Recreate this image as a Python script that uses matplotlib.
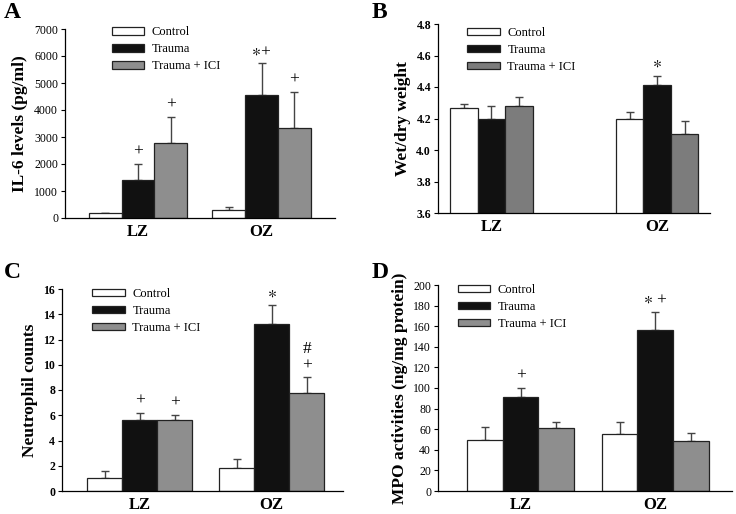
import numpy as np
import matplotlib
matplotlib.use('Agg')
import matplotlib.pyplot as plt
from matplotlib.patches import Patch

plt.rcParams['font.family'] = ['Liberation Serif', 'DejaVu Sans']
plt.rcParams['mathtext.fontset'] = 'stix'

groups = ['LZ', 'OZ']
series = ['Control', 'Trauma', 'Trauma + ICI']

# A: IL-6 levels
il6_mean = [[180, 310], [1420, 4550], [2780, 3330]]
il6_err = [[20, 80], [580, 1180], [950, 1350]]
il6_marks = [['', ''], ['+', r'$\ast$+'], ['+', '+']]

# B: wet/dry weight
wd_mean = [[4.265, 4.20], [4.20, 4.41], [4.28, 4.10]]
wd_err = [[0.025, 0.04], [0.08, 0.06], [0.055, 0.085]]
wd_marks = [['', ''], ['', r'$\ast$'], ['', '']]

# C: neutrophil counts
neu_mean = [[1.0, 1.8], [5.6, 13.2], [5.6, 7.8]]
neu_err = [[0.55, 0.75], [0.6, 1.5], [0.4, 1.2]]
neu_marks = [['', ''], ['+', r'$\ast$'], ['+', '#\n+']]

# D: MPO activities
mpo_mean = [[50, 55], [91, 156], [61, 49]]
mpo_err = [[12, 12], [9, 18], [6, 7]]
mpo_marks = [['', ''], ['+', r'$\ast$ +'], ['', '']]

W, H = 736, 514
fig = plt.figure(figsize=(W / 100, H / 100), dpi=100)


def make_ax(l, r, t, b):
    return fig.add_axes([l / W, 1 - b / H, (r - l) / W, (b - t) / H])


def panel(ax, mean, err, marks, colors, ylim, yticks, ylabel, xlim, width,
          bold_ticks, tick_fmt, legend_anchor):
    x = np.arange(len(groups))
    for i, name in enumerate(series):
        pos = x + (i - 1) * width
        ax.bar(pos, mean[i], width, color=colors[i], edgecolor='#222222',
               linewidth=0.9, zorder=2)
        ax.errorbar(pos, mean[i], yerr=[np.zeros(len(groups)), err[i]],
                    fmt='none', ecolor='#444444', elinewidth=1.0, capsize=3,
                    capthick=1.0, zorder=1)
        for j in range(len(groups)):
            if marks[i][j]:
                ax.annotate(marks[i][j], (pos[j], mean[i][j] + err[i][j]),
                            xytext=(0, 3), textcoords='offset points',
                            ha='center', va='bottom', fontsize=12.5,
                            linespacing=1.0)
    ax.set_xlim(*xlim)
    ax.set_ylim(*ylim)
    ax.set_yticks(yticks)
    ax.set_yticklabels([tick_fmt.format(v) for v in yticks],
                       fontsize=8.5, fontweight='bold' if bold_ticks else 'normal')
    ax.set_xticks(x)
    ax.set_xticklabels(groups, fontsize=12, fontweight='bold')
    ax.tick_params(axis='x', length=0, pad=4)
    ax.tick_params(axis='y', direction='out', length=3, width=0.8, pad=2)
    for s in ['top', 'right']:
        ax.spines[s].set_visible(False)
    for s in ['left', 'bottom']:
        ax.spines[s].set_linewidth(0.9)
    ax.set_ylabel(ylabel, fontsize=12.5, fontweight='bold', labelpad=4)
    handles = [Patch(facecolor=c, edgecolor='#222222', linewidth=0.9)
               for c in colors]
    ax.legend(handles, series, loc='upper left', bbox_to_anchor=legend_anchor,
              frameon=False, fontsize=9, handlelength=2.6, handleheight=0.55,
              handletextpad=0.6, labelspacing=0.4, borderaxespad=0)


gray = ['white', '#111111', '#8e8e8e']
grayB = ['white', '#111111', '#7c7c7c']

axA = make_ax(65, 335, 29, 218)
panel(axA, il6_mean, il6_err, il6_marks, gray, (0, 7000),
      np.arange(0, 7001, 1000), 'IL-6 levels (pg/ml)', (-0.591, 1.595),
      0.267, False, '{:.0f}', (0.155, 1.04))

axB = make_ax(438, 710, 24, 213)
panel(axB, wd_mean, wd_err, wd_marks, grayB, (3.6, 4.8),
      np.round(np.arange(3.6, 4.81, 0.2), 1), 'Wet/dry weight',
      (-0.323, 1.32), 0.166, True, '{:.1f}', (0.09, 1.01))

axC = make_ax(62, 343, 289, 491)
panel(axC, neu_mean, neu_err, neu_marks, gray, (0, 16),
      np.arange(0, 17, 2), 'Neutrophil counts', (-0.59, 1.54), 0.265,
      True, '{:.0f}', (0.09, 1.03))

axD = make_ax(438, 732, 285, 491)
panel(axD, mpo_mean, mpo_err, mpo_marks, gray, (0, 200),
      np.arange(0, 201, 20), 'MPO activities (ng/mg protein)',
      (-0.613, 1.57), 0.264, False, '{:.0f}', (0.05, 1.03))

for lab, (px, py) in zip('ABCD', [(4, 2), (372, 2), (4, 262), (372, 262)]):
    fig.text(px / W, 1 - py / H, lab, fontsize=17, fontweight='bold',
             ha='left', va='top')

fig.savefig('out.png', dpi=100)
